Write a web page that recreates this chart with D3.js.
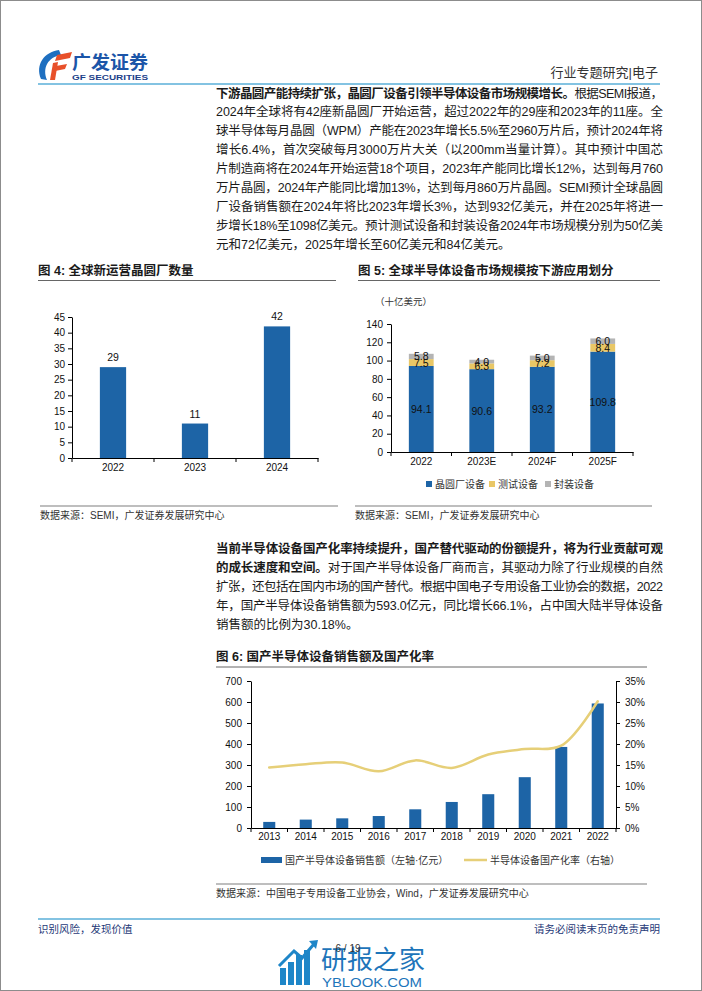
<!DOCTYPE html>
<html><head><meta charset="utf-8">
<script src="https://cdn.jsdelivr.net/npm/d3@7/dist/d3.min.js"></script>
<style>
body{margin:0;background:#fff}
svg{display:block}
text{font-family:"Liberation Sans","Noto Sans CJK SC",sans-serif}
</style>
</head><body>
<svg id="page" width="702" height="991"></svg>
<script>
// ---------- DATA ----------
const fig4Years = ["2022", "2023", "2024"];
const fig4Fabs = [29, 11, 42];
const fig4Ticks = [0, 5, 10, 15, 20, 25, 30, 35, 40, 45];

const fig5Years = ["2022", "2023E", "2024F", "2025F"];
const fig5Fab = [94.1, 90.6, 93.2, 109.8];
const fig5Test = [7.5, 6.3, 7.2, 8.4];
const fig5Pack = [5.8, 4.0, 5.0, 6.0];
const fig5Series = ["晶圆厂设备", "测试设备", "封装设备"];
const fig5Ticks = [0, 20, 40, 60, 80, 100, 120, 140];

const fig6Years = ["2013", "2014", "2015", "2016", "2017", "2018", "2019", "2020", "2021", "2022"];
const fig6Sales = [29, 40, 46, 57, 89, 124, 161, 242, 386, 593];
const fig6Rate = [14.4, 15.2, 15.6, 13.5, 16.1, 14.3, 17.5, 18.8, 19.6, 30.18];
const fig6LeftTicks = [0, 100, 200, 300, 400, 500, 600, 700];
const fig6RightTicks = [0, 5, 10, 15, 20, 25, 30, 35];
const fig6Legend = ["国产半导体设备销售额（左轴·亿元）", "半导体设备国产化率（右轴）"];

const para1 = [
  [["下游晶圆产能持续扩张，晶圆厂设备引领半导体设备市场规模增长。", 1], ["根据SEMI报道，", 0]],
  [["2024年全球将有42座新晶圆厂开始运营，超过2022年的29座和2023年的11座。全", 0]],
  [["球半导体每月晶圆（WPM）产能在2023年增长5.5%至2960万片后，预计2024年将", 0]],
  [["增长6.4%，首次突破每月3000万片大关（以200mm当量计算）。其中预计中国芯", 0]],
  [["片制造商将在2024年开始运营18个项目，2023年产能同比增长12%，达到每月760", 0]],
  [["万片晶圆，2024年产能同比增加13%，达到每月860万片晶圆。SEMI预计全球晶圆", 0]],
  [["厂设备销售额在2024年将比2023年增长3%，达到932亿美元，并在2025年将进一", 0]],
  [["步增长18%至1098亿美元。预计测试设备和封装设备2024年市场规模分别为50亿美", 0]],
  [["元和72亿美元，2025年增长至60亿美元和84亿美元。", 0]]
];
const para2 = [
  [["当前半导体设备国产化率持续提升，国产替代驱动的份额提升，将为行业贡献可观", 1]],
  [["的成长速度和空间。", 1], ["对于国产半导体设备厂商而言，其驱动力除了行业规模的自然", 0]],
  [["扩张，还包括在国内市场的国产替代。根据中国电子专用设备工业协会的数据，2022", 0]],
  [["年，国产半导体设备销售额为593.0亿元，同比增长66.1%，占中国大陆半导体设备", 0]],
  [["销售额的比例为30.18%。", 0]]
];

// ---------- COLORS ----------
const BLUE = "#1D64A6", GOLD = "#E9C766", GRAY = "#B4B4B4", LINE = "#E6CF78";
const HEAD = "#5AAFD9", TXT = "#1a1a1a";

const svg = d3.select("#page");

// page frame
svg.append("rect").attr("x", 0.5).attr("y", 0.5).attr("width", 701).attr("height", 990)
  .attr("fill", "none").attr("stroke", "#8c8c8c");

// ---------- HEADER ----------
const logo = svg.append("g");
logo.append("path").attr("d", "M59 50 C44 52,35 65,41 79 L47 80 C42 68,48 57,61 55 Z").attr("fill", "#1E6FC0");
logo.append("path").attr("d", "M57 55 L72 52 L70 58 L55 61 Z").attr("fill", "#E8502A");
logo.append("path").attr("d", "M53 63 L58 62 L55 80 L50 80 Z").attr("fill", "#E8502A");
logo.append("path").attr("d", "M56 66 L67 64 L65 69 L55 71 Z").attr("fill", "#E8502A");
svg.append("text").attr("x", 72).attr("y", 69).attr("font-size", 18).attr("font-weight", "bold")
  .attr("fill", "#1B55A8").attr("textLength", 76).attr("lengthAdjust", "spacingAndGlyphs").text("广发证券");
svg.append("text").attr("x", 72).attr("y", 80).attr("font-size", 8).attr("font-weight", "bold")
  .attr("fill", "#1B3F8A").attr("textLength", 76).attr("lengthAdjust", "spacingAndGlyphs").text("GF SECURITIES");
svg.append("text").attr("x", 658).attr("y", 77).attr("text-anchor", "end").attr("font-size", 13)
  .attr("fill", "#333").text("行业专题研究|电子");
svg.append("line").attr("x1", 38).attr("x2", 660).attr("y1", 84).attr("y2", 84)
  .attr("stroke", HEAD).attr("stroke-width", 1.5);

// ---------- PARAGRAPHS ----------
function paragraph(lines, x, y0, lh, width) {
  lines.forEach((ln, i) => {
    const t = svg.append("text").attr("x", x).attr("y", y0 + i * lh)
      .attr("font-size", 12.5).attr("fill", TXT);
    ln.forEach(p => t.append("tspan").attr("font-weight", p[1] ? "bold" : "normal").text(p[0]));
    if (i < lines.length - 1) t.attr("textLength", width).attr("lengthAdjust", "spacing");
  });
}
paragraph(para1, 216, 97.5, 18.95, 447);
paragraph(para2, 216, 552.5, 19.1, 447);

// ---------- helpers ----------
function title(x, y, x2, label) {
  svg.append("text").attr("x", x).attr("y", y).attr("font-size", 12.5).attr("font-weight", "bold")
    .attr("fill", TXT).text(label);
  svg.append("line").attr("x1", x).attr("x2", x2).attr("y1", y + 6).attr("y2", y + 6)
    .attr("stroke", "#666").attr("stroke-width", 1);
}
function source(x, x2, y, label) {
  svg.append("line").attr("x1", x).attr("x2", x2).attr("y1", y).attr("y2", y)
    .attr("stroke", "#a8a8a8").attr("stroke-width", 1.5);
  svg.append("text").attr("x", x).attr("y", y + 13).attr("font-size", 10).attr("fill", "#333").text(label);
}
function styleAxis(g) {
  g.selectAll("path.domain").attr("stroke", "#000").attr("stroke-width", 1);
  g.selectAll(".tick line").attr("stroke", "#000");
  g.selectAll("text").attr("font-size", 10).attr("fill", "#111")
    .attr("font-family", '"Liberation Sans",Arial,sans-serif');
}
function bandTicks(g, x, y0, len) {
  const bounds = x.domain().map(d => x(d) - x.step() * x.paddingOuter() * 0);
  const st = x.step();
  const r = x.range();
  const pos = [r[0]];
  x.domain().forEach((d, i) => pos.push(r[0] + st * (i + 1)));
  g.selectAll("line.bt").data(pos).enter().append("line").attr("class", "bt")
    .attr("x1", d => d).attr("x2", d => d).attr("y1", y0).attr("y2", y0 + len)
    .attr("stroke", "#000");
}

// ---------- FIG 4 ----------
title(38, 274.5, 336, "图 4: 全球新运营晶圆厂数量");
{
  const x = d3.scaleBand().domain(fig4Years).range([72, 318]).padding(0);
  const y = d3.scaleLinear().domain([0, 45]).range([458, 317]);
  const g = svg.append("g");
  const bw = x.step() * 0.32;
  g.selectAll("rect").data(fig4Fabs).enter().append("rect")
    .attr("x", (d, i) => x(fig4Years[i]) + (x.step() - bw) / 2)
    .attr("y", d => y(d)).attr("width", bw).attr("height", d => y(0) - y(d)).attr("fill", BLUE);
  g.selectAll("text.v").data(fig4Fabs).enter().append("text").attr("class", "v")
    .attr("x", (d, i) => x(fig4Years[i]) + x.step() / 2).attr("y", d => y(d) - 6)
    .attr("text-anchor", "middle").attr("font-size", 10.5).attr("fill", "#111").text(d => d);
  const ya = svg.append("g").attr("transform", "translate(72,0)")
    .call(d3.axisLeft(y).tickValues(fig4Ticks).tickSize(4).tickPadding(3).tickSizeOuter(0));
  styleAxis(ya);
  const xa = svg.append("g").attr("transform", "translate(0,458)")
    .call(d3.axisBottom(x).tickSize(0).tickPadding(6).tickSizeOuter(0));
  styleAxis(xa);
  bandTicks(svg.append("g"), x, 458, 4);
}
source(40, 338, 506, "数据来源：SEMI，广发证券发展研究中心");

// ---------- FIG 5 ----------
title(358, 274.5, 660, "图 5: 全球半导体设备市场规模按下游应用划分");
svg.append("text").attr("x", 375).attr("y", 304.5).attr("font-size", 9.5).attr("fill", "#333").text("（十亿美元）");
{
  const x = d3.scaleBand().domain(fig5Years).range([391, 633]).padding(0);
  const y = d3.scaleLinear().domain([0, 140]).range([452, 324]);
  const rows = fig5Years.map((yr, i) => ({ yr, a: fig5Fab[i], b: fig5Test[i], c: fig5Pack[i] }));
  const stack = d3.stack().keys(["a", "b", "c"])(rows);
  const cols = [BLUE, GOLD, GRAY];
  const bw = x.step() * 0.41;
  const g = svg.append("g");
  stack.forEach((layer, li) => {
    g.selectAll(null).data(layer).enter().append("rect")
      .attr("x", d => x(d.data.yr) + (x.step() - bw) / 2).attr("width", bw)
      .attr("y", d => y(d[1])).attr("height", d => y(d[0]) - y(d[1])).attr("fill", cols[li]);
  });
  stack.forEach((layer, li) => {
    g.selectAll(null).data(layer).enter().append("text")
      .attr("x", d => x(d.data.yr) + x.step() / 2).attr("y", d => (y(d[0]) + y(d[1])) / 2 + 4)
      .attr("text-anchor", "middle").attr("font-size", 10.5).attr("fill", "#111")
      .text(d => (d[1] - d[0]).toFixed(1));
  });
  const ya = svg.append("g").attr("transform", "translate(391,0)")
    .call(d3.axisLeft(y).tickValues(fig5Ticks).tickSize(4).tickPadding(4).tickSizeOuter(0));
  styleAxis(ya);
  const xa = svg.append("g").attr("transform", "translate(0,452)")
    .call(d3.axisBottom(x).tickSize(0).tickPadding(6).tickSizeOuter(0));
  styleAxis(xa);
  bandTicks(svg.append("g"), x, 452, 4);
  // legend
  const lx = [426, 489, 545];
  fig5Series.forEach((s, i) => {
    svg.append("rect").attr("x", lx[i]).attr("y", 481).attr("width", 6).attr("height", 6).attr("fill", cols[i]);
    svg.append("text").attr("x", lx[i] + 9).attr("y", 488).attr("font-size", 10).attr("fill", "#333").text(s);
  });
}
source(355, 652, 506, "数据来源：SEMI，广发证券发展研究中心");

// ---------- FIG 6 ----------
title(216, 661, 647, "图 6: 国产半导体设备销售额及国产化率");
{
  const x = d3.scaleBand().domain(fig6Years).range([251, 616]).padding(0);
  const yL = d3.scaleLinear().domain([0, 700]).range([828, 681]);
  const yR = d3.scaleLinear().domain([0, 35]).range([828, 681]);
  const bw = x.step() * 0.33;
  const g = svg.append("g");
  g.selectAll("rect").data(fig6Sales).enter().append("rect")
    .attr("x", (d, i) => x(fig6Years[i]) + (x.step() - bw) / 2).attr("width", bw)
    .attr("y", d => yL(d)).attr("height", d => yL(0) - yL(d)).attr("fill", BLUE);
  const line = d3.line().x((d, i) => x(fig6Years[i]) + x.step() / 2).y(d => yR(d))
    .curve(d3.curveCatmullRom.alpha(0.5));
  g.append("path").attr("d", line(fig6Rate)).attr("fill", "none").attr("stroke", LINE)
    .attr("stroke-width", 2.5).attr("stroke-linecap", "round");
  const ya = svg.append("g").attr("transform", "translate(251,0)")
    .call(d3.axisLeft(yL).tickValues(fig6LeftTicks).tickSize(4).tickPadding(5).tickSizeOuter(0));
  styleAxis(ya);
  const yb = svg.append("g").attr("transform", "translate(616,0)")
    .call(d3.axisRight(yR).tickValues(fig6RightTicks).tickSize(4).tickPadding(5).tickSizeOuter(0)
      .tickFormat(d => d + "%"));
  styleAxis(yb);
  const xa = svg.append("g").attr("transform", "translate(0,828)")
    .call(d3.axisBottom(x).tickSize(0).tickPadding(5).tickSizeOuter(0));
  styleAxis(xa);
  bandTicks(svg.append("g"), x, 828, 4);
  // legend
  svg.append("rect").attr("x", 261).attr("y", 857).attr("width", 21).attr("height", 6).attr("fill", BLUE);
  svg.append("text").attr("x", 285).attr("y", 864).attr("font-size", 10).attr("fill", "#333").text(fig6Legend[0]);
  svg.append("line").attr("x1", 464).attr("x2", 487).attr("y1", 860).attr("y2", 860)
    .attr("stroke", LINE).attr("stroke-width", 2.5);
  svg.append("text").attr("x", 490).attr("y", 864).attr("font-size", 10).attr("fill", "#333").text(fig6Legend[1]);
}
source(216, 647, 884, "数据来源：中国电子专用设备工业协会，Wind，广发证券发展研究中心");

// ---------- FOOTER ----------
svg.append("line").attr("x1", 38).attr("x2", 660).attr("y1", 919).attr("y2", 919)
  .attr("stroke", HEAD).attr("stroke-width", 1.5);
svg.append("text").attr("x", 38).attr("y", 933).attr("font-size", 10.5).attr("fill", "#1F3A78").text("识别风险，发现价值");
svg.append("text").attr("x", 660).attr("y", 933).attr("text-anchor", "end").attr("font-size", 10.5)
  .attr("fill", "#1F3A78").text("请务必阅读末页的免责声明");

// watermark
const wm = svg.append("g").attr("fill", "#1E86C8");
[[280, 968, 6, 17], [288, 962, 6, 23], [296, 955, 6, 30], [304, 950, 6, 35]].forEach(b =>
  wm.append("rect").attr("x", b[0]).attr("y", b[1]).attr("width", b[2]).attr("height", b[3]));
wm.append("path").attr("d", "M279 966 L294 951 L302 958 L314 944").attr("fill", "none")
  .attr("stroke", "#1E86C8").attr("stroke-width", 3);
wm.append("path").attr("d", "M309 941 L318 940 L316 949 Z");
svg.append("text").attr("x", 321).attr("y", 969).attr("font-size", 26).attr("fill", "#1D75BA").text("研报之家");
svg.append("text").attr("x", 322).attr("y", 987).attr("font-size", 13.5).attr("fill", "#1D75BA")
  .attr("textLength", 100).attr("lengthAdjust", "spacingAndGlyphs").text("YBLOOK.COM");
svg.append("text").attr("x", 348).attr("y", 952).attr("text-anchor", "middle").attr("font-size", 10)
  .attr("fill", "#333").text("6 / 19");
</script>
</body></html>
